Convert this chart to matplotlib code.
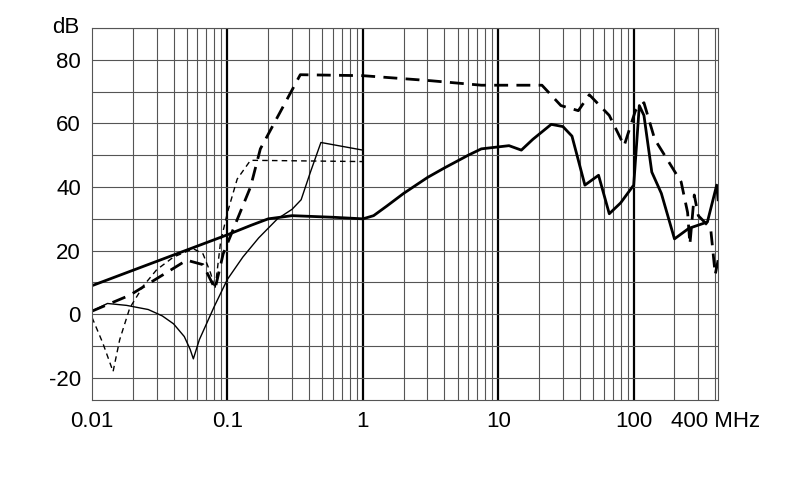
import matplotlib
matplotlib.use('Agg')
import matplotlib.pyplot as plt
from matplotlib.ticker import FixedLocator, NullFormatter

matplotlib.rcParams['font.family'] = 'Liberation Sans'
matplotlib.rcParams['axes.unicode_minus'] = False

# thick solid
f_a = [0.01, 0.1, 0.15, 0.2, 0.3, 0.6, 1.0, 1.2, 1.5, 2, 3, 4, 6, 7.5, 12, 14.8, 18, 24.6, 30, 35, 43.6, 55, 66, 80, 100, 110, 119, 136, 160, 200, 255, 350, 410, 420]
db_a = [9, 25, 28, 30, 31, 30.5, 30, 31, 34, 38, 43, 46, 50, 52, 53, 51.6, 55, 59.7, 59, 56, 40.6, 43.7, 31.6, 35, 40.6, 65.6, 62.5, 44.7, 38, 23.7, 27, 29, 40.6, 36]
# thick dashed
f_b = [0.01, 0.019, 0.05, 0.066, 0.081, 0.093, 0.148, 0.175, 0.345, 1.0, 3.2, 7.5, 21, 29, 39, 47, 66, 85, 103, 119, 143, 224, 250, 260, 280, 300, 370, 400, 420]
db_b = [1, 6, 17, 15.6, 8, 19, 40, 52, 75.3, 75, 73.4, 72, 72, 65.6, 64, 69, 62.5, 53, 64, 66.5, 55, 41.6, 32, 22, 37.5, 31, 27, 12.5, 17]
# thin dashed
f_c = [0.01, 0.012, 0.0143, 0.016, 0.019, 0.024, 0.03, 0.04, 0.056, 0.066, 0.075, 0.081, 0.089, 0.1, 0.118, 0.148, 1.0]
db_c = [-1, -9, -18, -8, 2, 9, 14, 18, 20.6, 19, 13, 8, 22.8, 32, 42.5, 48.4, 48]
# thin solid
f_d = [0.01, 0.013, 0.018, 0.026, 0.033, 0.04, 0.048, 0.053, 0.056, 0.062, 0.07, 0.08, 0.1, 0.13, 0.17, 0.234, 0.3, 0.35, 0.41, 0.49, 1.0]
db_d = [1, 3.4, 2.8, 1.5, -0.5, -3, -7, -11, -14, -8, -3, 2.5, 11, 18, 24, 30, 33, 36, 44.7, 54, 51.6]

fig = plt.figure(figsize=(7.9, 4.99), dpi=100)
ax = fig.add_axes([0.1165, 0.198, 0.7925, 0.746])
ax.set_xscale('log')
ax.set_xlim(0.01, 420)
ax.set_ylim(-27, 90)

# grid
minor = [m * 10.0**e for e in range(-2, 3) for m in range(2, 10) if m * 10.0**e < 420]
for v in minor:
    ax.axvline(v, color='#555555', lw=0.8, zorder=0)
for v in [0.1, 1, 10, 100]:
    ax.axvline(v, color='black', lw=1.6, zorder=0)
for v in range(-20, 91, 10):
    ax.axhline(v, color='#555555', lw=0.8, zorder=0)

ax.plot(f_a, db_a, color='black', lw=2.0)
ax.plot(f_b, db_b, color='black', lw=2.0, ls=(0, (5, 3)))
ax.plot(f_c, db_c, color='black', lw=1.0, ls=(0, (4, 3)))
ax.plot(f_d, db_d, color='black', lw=1.0)

ax.xaxis.set_major_locator(FixedLocator([0.01, 0.1, 1, 10, 100, 400]))
ax.set_xticklabels(['0.01', '0.1', '1', '10', '100', '400 MHz'])
ax.xaxis.set_minor_formatter(NullFormatter())
ax.set_yticks([-20, 0, 20, 40, 60, 80])
ax.tick_params(length=0, labelsize=16, pad=8)
ax.tick_params(which='minor', length=0)
ax.text(-0.02, 1.0, 'dB', transform=ax.transAxes, ha='right', va='center', fontsize=16)
for s in ax.spines.values():
    s.set_color('#555555')
    s.set_linewidth(0.8)

fig.savefig('out.png', dpi=100)
